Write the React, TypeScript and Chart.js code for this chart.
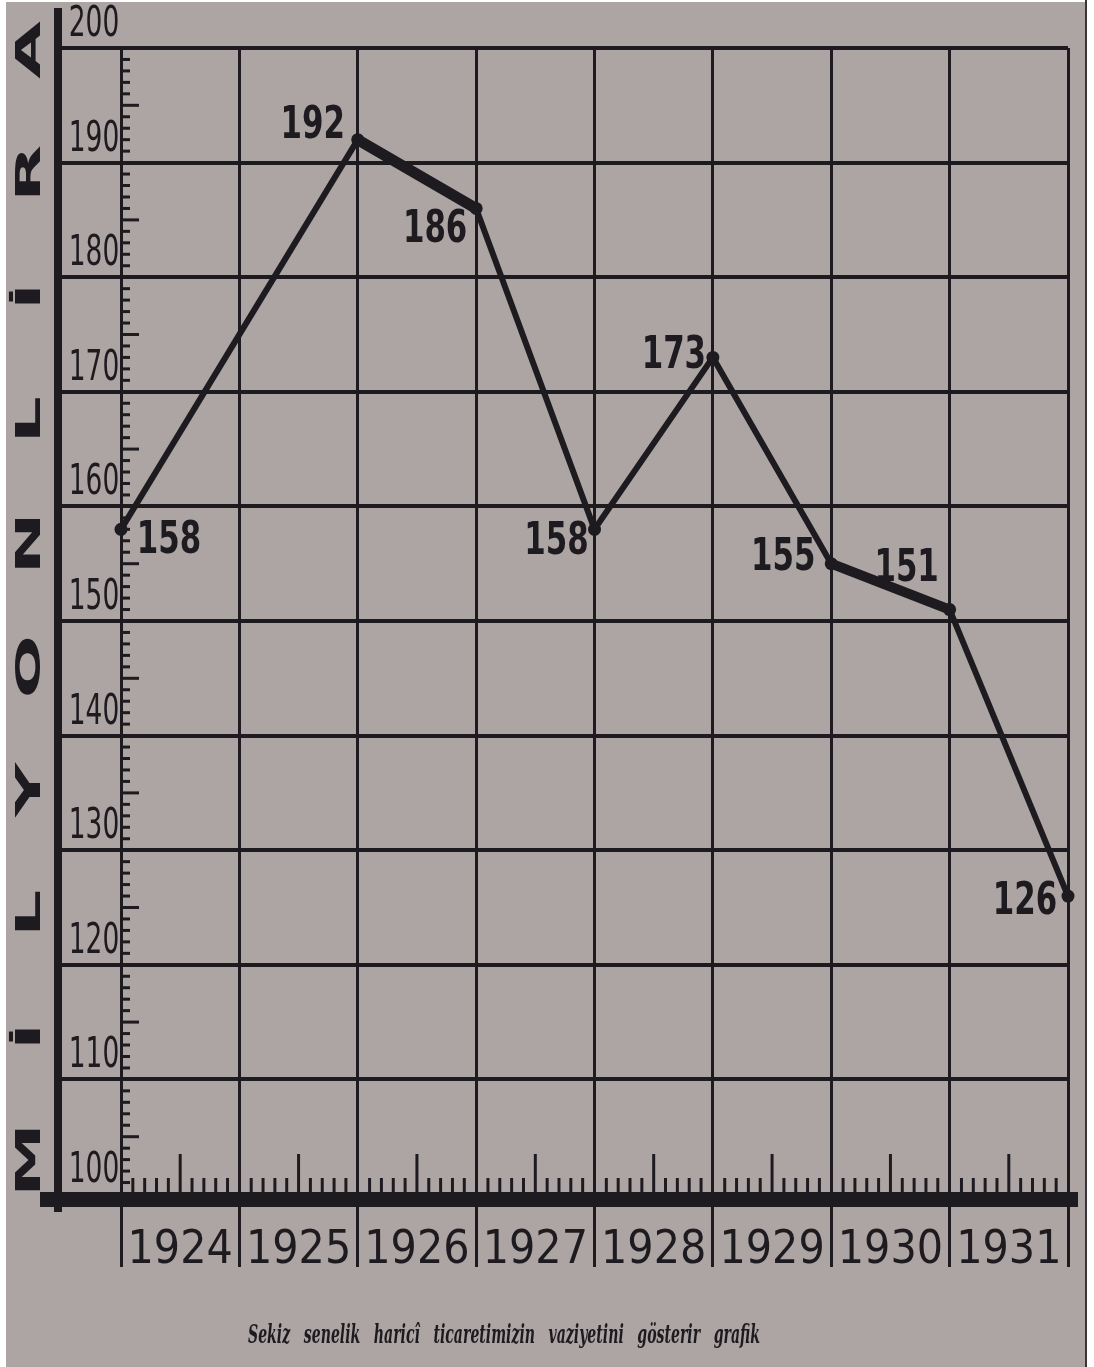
import React, { useEffect, useRef } from 'react';
import { Chart, registerables } from 'chart.js';

Chart.register(...registerables);

// ---------- data ----------
const years = ['1924', '1925', '1926', '1927', '1928', '1929', '1930', '1931'];
// slot = which vertical grid line (boundary) the value sits on
const pointSlots = [0, 2, 3, 4, 5, 6, 7, 8];
const values = [158, 192, 186, 158, 173, 155, 151, 126];
const yMin = 100;
const yMax = 200;
const yStep = 10;
const axisTitle = 'MİLYON LİRA';
const caption = 'Sekiz senelik haricî ticaretimizin vaziyetini gösterir grafik';

// ---------- styling ----------
const W = 1094;
const H = 1367;
const PLOT_LEFT = 121;
const PLOT_RIGHT = 1068;
const PLOT_TOP = 48;
const PLOT_BOTTOM = 1194;
const Y_AXIS_W = 63;
const X_AXIS_H = 100;
const INK = '#1e1b20';
const PAPER = '#ada5a3';
const COND = '"DejaVu Sans Condensed", "DejaVu Sans", sans-serif';
// value-label placement relative to each point (style only)
const labelShift: [number, number][] = [
  [48, 12], [-45, -13], [-41, 22], [-38, 13], [-39, -1], [-48, -5], [-43, -40], [-43, 7],
];
const segmentWidths = [6, 11, 6, 6, 6, 10, 6];

const decorPlugin = {
  id: 'decor',
  beforeDraw(chart: any) {
    const { ctx } = chart;
    ctx.save();
    ctx.fillStyle = '#ffffff';
    ctx.fillRect(0, 0, W, H);
    ctx.fillStyle = PAPER;
    ctx.fillRect(6, 2, 1080, H - 2);
    ctx.fillStyle = '#3a3436';
    ctx.fillRect(1085, 0, 2, H);
    ctx.restore();
  },
  afterDraw(chart: any) {
    const { ctx, chartArea: a, scales } = chart;
    const xs = scales.x;
    const ys = scales.y;
    ctx.save();
    ctx.strokeStyle = INK;
    ctx.fillStyle = INK;
    ctx.lineCap = 'butt';

    // ruler ticks along the first vertical line
    ctx.lineWidth = 3;
    for (let v = yMin + 1; v < yMax; v++) {
      if (v % 10 === 0) continue;
      const y = ys.getPixelForValue(v);
      const len = v % 5 === 0 ? 18 : 9;
      ctx.beginPath();
      ctx.moveTo(a.left, y);
      ctx.lineTo(a.left + len, y);
      ctx.stroke();
    }
    // ruler ticks along the bottom axis
    for (let i = 0; i < years.length; i++) {
      for (let k = 1; k < 10; k++) {
        const x = xs.getPixelForValue(i + k / 10);
        const len = k === 5 ? 40 : 16;
        ctx.beginPath();
        ctx.moveTo(x, a.bottom);
        ctx.lineTo(x, a.bottom - len);
        ctx.stroke();
      }
    }

    // thick frame lines
    ctx.fillRect(a.left - Y_AXIS_W - 4, 8, 8, a.bottom + 18 - 8);
    ctx.fillRect(40, a.bottom - 2, a.right + 10 - 40, 15);

    // y tick labels (narrowed hand-lettering look), from the y scale's ticks
    ctx.font = `500 42px ${COND}`;
    ctx.textAlign = 'center';
    ctx.textBaseline = 'middle';
    ys.ticks.forEach((t: any) => {
      ctx.save();
      ctx.translate(a.left - 27, ys.getPixelForValue(t.value) - 23);
      ctx.scale(0.7, 1);
      ctx.fillText(String(t.value), 0, 0);
      ctx.restore();
    });

    // vertical axis title, letter by letter
    const letters = Array.from(axisTitle.replace(/\s/g, ''));
    const top = a.top + 2;
    const bottom = a.bottom - 34;
    const step = (bottom - top) / (letters.length - 1);
    ctx.font = 'bold 34px "DejaVu Sans", sans-serif';
    letters.forEach((ch, i) => {
      ctx.save();
      ctx.translate(31, bottom - i * step);
      ctx.rotate(-Math.PI / 2);
      ctx.scale(2.2, 1);
      ctx.fillText(ch, 0, 0);
      ctx.restore();
    });

    // value labels
    const meta = chart.getDatasetMeta(0);
    ctx.font = `bold 44px ${COND}`;
    meta.data.forEach((pt: any, i: number) => {
      const [dx, dy] = labelShift[i];
      ctx.save();
      ctx.translate(pt.x + dx, pt.y + dy);
      ctx.scale(0.78, 1);
      ctx.fillText(String(values[i]), 0, 0);
      ctx.restore();
    });

    // caption
    ctx.font = 'italic bold 26px "DejaVu Serif", serif';
    (ctx as any).wordSpacing = '16px';
    ctx.textAlign = 'left';
    ctx.fillText(caption, 248, 1336, 512);
    ctx.restore();
  },
};

export default function App() {
  const ref = useRef<HTMLCanvasElement>(null);

  useEffect(() => {
    if (!ref.current) return;
    const chart = new Chart(ref.current, {
      type: 'line',
      data: {
        datasets: [
          {
            data: pointSlots.map((s, i) => ({ x: s, y: values[i] })),
            borderColor: INK,
            borderWidth: 6,
            pointRadius: 6.5,
            pointBackgroundColor: INK,
            pointBorderWidth: 0,
            tension: 0,
            clip: false as any,
            segment: {
              borderWidth: (c: any) => segmentWidths[c.p0DataIndex] ?? 6,
            },
          },
        ],
      },
      options: {
        responsive: false,
        animation: false,
        devicePixelRatio: 1,
        layout: {
          padding: {
            left: PLOT_LEFT - Y_AXIS_W,
            right: W - PLOT_RIGHT,
            top: PLOT_TOP,
            bottom: H - PLOT_BOTTOM - X_AXIS_H,
          },
        },
        plugins: {
          legend: { display: false },
          tooltip: { enabled: false },
        },
        scales: {
          x: {
            type: 'linear',
            min: 0,
            max: years.length,
            afterFit: (s: any) => {
              s.height = X_AXIS_H;
            },
            ticks: {
              stepSize: 1,
              autoSkip: false,
              maxRotation: 0,
              labelOffset: (PLOT_RIGHT - PLOT_LEFT) / years.length / 2,
              padding: -44,
              color: INK,
              font: { family: COND, size: 46 },
              callback: (v: any) => years[v as number] ?? '',
            },
            grid: { color: INK, lineWidth: 3, drawTicks: true, tickLength: 73 },
            border: { display: false },
          },
          y: {
            type: 'linear',
            min: yMin,
            max: yMax,
            afterFit: (s: any) => {
              s.width = Y_AXIS_W;
            },
            ticks: {
              stepSize: yStep,
              display: false,
            },
            grid: { color: INK, lineWidth: 4, drawTicks: true, tickLength: 60 },
            border: { display: false },
          },
        },
      },
      plugins: [decorPlugin],
    } as any);
    return () => chart.destroy();
  }, []);

  return (
    <div style={{ position: 'absolute', left: 0, top: 0, width: W, height: H, background: '#fff' }}>
      <canvas ref={ref} width={W} height={H} style={{ display: 'block', width: W, height: H }} />
    </div>
  );
}
